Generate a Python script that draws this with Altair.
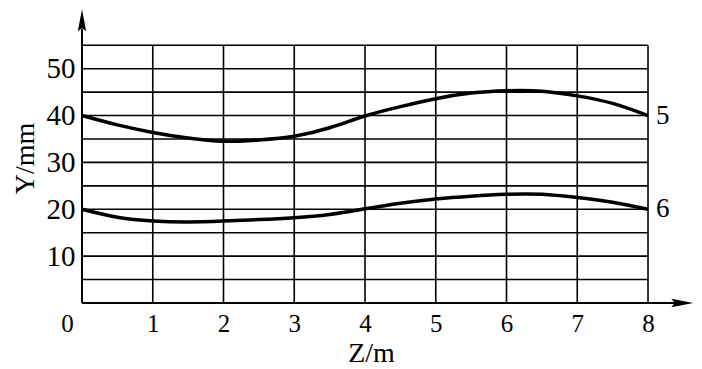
import altair as alt
import pandas as pd

# ---- data ----
z_vals = [0, 0.5, 1, 1.5, 2, 2.5, 3, 3.5, 4, 4.5, 5, 5.5, 6, 6.5, 7, 7.5, 8]
y_curve5 = [40.0, 38.0, 36.4, 35.2, 34.5, 34.8, 35.6, 37.4, 39.9, 41.9, 43.6, 44.8, 45.3, 45.2, 44.2, 42.6, 40.0]
y_curve6 = [20.0, 18.3, 17.5, 17.3, 17.5, 17.8, 18.2, 18.9, 20.1, 21.3, 22.2, 22.8, 23.2, 23.2, 22.5, 21.5, 20.0]
curve_names = ["5", "6"]
curve_end_y = [40.0, 20.0]

grid_z = [1, 2, 3, 4, 5, 6, 7, 8]
grid_y = [5, 10, 15, 20, 25, 30, 35, 40, 45, 50, 55]
x_ticks = [0, 1, 2, 3, 4, 5, 6, 7, 8]
y_ticks = [10, 20, 30, 40, 50]

X_MAX = 8.65
Y_MAX = 62.95
FONT = "Liberation Serif"

lines_df = pd.DataFrame(
    {"z": z_vals * 2,
     "y": y_curve5 + y_curve6,
     "curve": ["5"] * len(z_vals) + ["6"] * len(z_vals)}
)
vgrid_df = pd.DataFrame({"z": grid_z, "y0": [0] * len(grid_z), "y1": [55] * len(grid_z)})
hgrid_df = pd.DataFrame({"y": grid_y, "z0": [0] * len(grid_y), "z1": [8] * len(grid_y)})
xaxis_df = pd.DataFrame({"z0": [0], "z1": [8.5], "y": [0]})
yaxis_df = pd.DataFrame({"z": [0], "y0": [0], "y1": [58.5]})
up_arrow_df = pd.DataFrame({"z": [0], "y": [60.35]})
right_arrow_df = pd.DataFrame({"z": [8.485], "y": [0]})
labels_df = pd.DataFrame({"z": [8, 8], "y": curve_end_y, "label": curve_names})

xs = alt.Scale(domain=[0, X_MAX], nice=False, zero=False)
ys = alt.Scale(domain=[0, Y_MAX], nice=False, zero=False)

x_axis = alt.Axis(
    values=x_ticks, domain=False, ticks=False, grid=False,
    labelFont=FONT, labelFontSize=25, labelColor="black",
    labelPadding=8, labelFlush=False, labelOverlap=False,
    labelOffset={"condition": {"test": "datum.value == 0", "value": -15}, "value": 0},
    title="Z/m", titleFont=FONT, titleFontSize=28, titleFontWeight="normal",
    titleColor="black", titleX=289, titleY=58, titleAlign="center",
    titleBaseline="alphabetic",
)
y_axis = alt.Axis(
    values=y_ticks, domain=False, ticks=False, grid=False,
    labelFont=FONT, labelFontSize=29, labelColor="black", labelPadding=7,
    title="Y/mm", titleFont=FONT, titleFontSize=28, titleFontWeight="normal",
    titleColor="black", titleAngle=270, titleX=-49, titleY=150,
    titleAlign="center", titleBaseline="alphabetic",
)


def X(field):
    return alt.X(field, scale=xs, axis=x_axis)


def Y(field):
    return alt.Y(field, scale=ys, axis=y_axis)


vgrid = alt.Chart(vgrid_df).mark_rule(color="black", strokeWidth=1.6).encode(
    x=X("z:Q"), y=Y("y0:Q"), y2="y1:Q",
)
hgrid = alt.Chart(hgrid_df).mark_rule(color="black", strokeWidth=1.6).encode(
    x=X("z0:Q"), x2="z1:Q", y=Y("y:Q"),
)
xaxis_line = alt.Chart(xaxis_df).mark_rule(color="black", strokeWidth=2).encode(
    x=X("z0:Q"), x2="z1:Q", y=Y("y:Q"),
)
yaxis_line = alt.Chart(yaxis_df).mark_rule(color="black", strokeWidth=2).encode(
    x=X("z:Q"), y=Y("y0:Q"), y2="y1:Q",
)
up_arrow = alt.Chart(up_arrow_df).mark_point(
    shape="M0,-1L0.38,1L0,0.7L-0.38,1Z", size=484, filled=True, color="black",
    opacity=1, strokeWidth=0,
).encode(x=X("z:Q"), y=Y("y:Q"))
right_arrow = alt.Chart(right_arrow_df).mark_point(
    shape="M1,0L-1,-0.38L-0.7,0L-1,0.38Z", size=484, filled=True, color="black",
    opacity=1, strokeWidth=0,
).encode(x=X("z:Q"), y=Y("y:Q"))

curves = alt.Chart(lines_df).mark_line(
    color="black", strokeWidth=3.5, interpolate="natural"
).encode(
    x=X("z:Q"), y=Y("y:Q"), detail="curve:N",
)
curve_labels = alt.Chart(labels_df).mark_text(
    font=FONT, fontSize=27, color="black", align="left", baseline="middle", dx=8
).encode(
    x=X("z:Q"), y=Y("y:Q"), text="label:N",
)

chart = alt.layer(
    vgrid, hgrid, xaxis_line, yaxis_line, up_arrow, right_arrow, curves, curve_labels
).properties(
    width=612, height=295,
    autosize=alt.AutoSizeParams(type="none"),
    padding={"left": 74, "top": 0, "right": 0, "bottom": 65},
    background="white",
).configure_view(stroke=None)

chart.save("out.html", embed_options={"renderer": "svg", "actions": False})
